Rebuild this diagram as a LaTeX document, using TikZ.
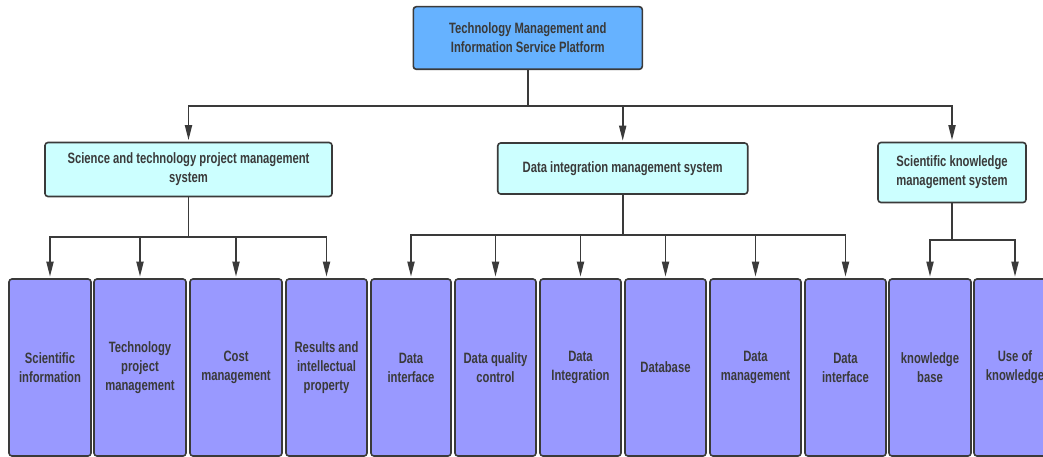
\documentclass[tikz,border=0pt]{standalone}
\usepackage{fontspec}
\newfontfamily\boxfont{Liberation Sans}[FakeStretch=0.75]
\usetikzlibrary{arrows.meta}

\definecolor{platform}{HTML}{66B2FF}
\definecolor{subsys}{HTML}{CCFFFF}
\definecolor{module}{HTML}{9999FF}
\definecolor{edge}{HTML}{3A3A3A}

\begin{document}
\begin{tikzpicture}[x=1pt, y=-1pt,
    box/.style={draw=edge, line width=1.6pt, rounded corners=3pt, align=center,
      inner sep=0pt, text=edge, font=\boxfont\bfseries\fontsize{15}{19}\selectfont},
    topbox/.style={box, fill=platform},
    subbox/.style={box, fill=subsys},
    modbox/.style={box, fill=module, minimum height=177pt},
    link/.style={draw=edge, line width=1.8pt},
    arr/.style={link, -{Triangle[length=15pt, width=7pt]}, shorten >=1.5pt}]
  \useasboundingbox (0,0) rectangle (1043,457);

  % platform
  \path (527.8,38) node [topbox, minimum width=229pt, minimum height=62.6pt] (plat)
    {Technology Management and\\Information Service Platform};

  % the three subsystems
  \path (188.5,169.5) node [subbox, minimum width=287pt, minimum height=54pt] (proj)
    {Science and technology project management\\system};
  \path (622.7,168.5) node [subbox, minimum width=250pt, minimum height=51pt] (data)
    {Data integration management system};
  \path (952,172.5) node [subbox, minimum width=148pt, minimum height=60pt] (know)
    {Scientific knowledge\\management system};

  % modules
  \path (50,367.5)    node [modbox, minimum width=82pt] (m1) {Scientific\\information};
  \path (140,367.5)   node [modbox, minimum width=92pt] (m2) {Technology\\project\\management};
  \path (236,367.5)   node [modbox, minimum width=92pt] (m3) {Cost\\management};
  \path (326.5,367.5) node [modbox, minimum width=81pt] (m4) {Results and\\intellectual\\property};
  \path (411,367.5)   node [modbox, minimum width=80pt] (m5) {Data\\interface};
  \path (495.5,367.5) node [modbox, minimum width=81pt] (m6) {Data quality\\control};
  \path (580.5,367.5) node [modbox, minimum width=81pt] (m7) {Data\\Integration};
  \path (665.5,367.5) node [modbox, minimum width=81pt] (m8) {Database};
  \path (755.5,367.5) node [modbox, minimum width=91pt] (m9) {Data\\management};
  \path (845.5,367.5) node [modbox, minimum width=81pt] (m10) {Data\\interface};
  \path (930,367.5)   node [modbox, minimum width=82pt] (m11) {knowledge\\base};
  \path (1015,367.5)  node [modbox, minimum width=82pt] (m12) {Use of\\knowledge};

  % connectors
  \coordinate (busA) at (527.3,105.7);
  \coordinate (busP) at (188.5,237);
  \coordinate (busD) at (622.7,235);
  \coordinate (busK) at (952,240);

  \draw [link] (plat.south) -- (plat.south |- busA);
  \foreach \n in {proj,data,know}
    \draw [arr] (plat.south |- busA) -| (\n.north);

  \draw [link] (proj.south) -- (busP);
  \foreach \n in {m1,m2,m3,m4}
    \draw [arr] (busP) -| (\n.north);

  \draw [link] (data.south) -- (busD);
  \foreach \n in {m5,m6,m7,m8,m9,m10}
    \draw [arr] (busD) -| (\n.north);

  \draw [link] (know.south) -- (busK);
  \foreach \n in {m11,m12}
    \draw [arr] (busK) -| (\n.north);
\end{tikzpicture}
\end{document}
